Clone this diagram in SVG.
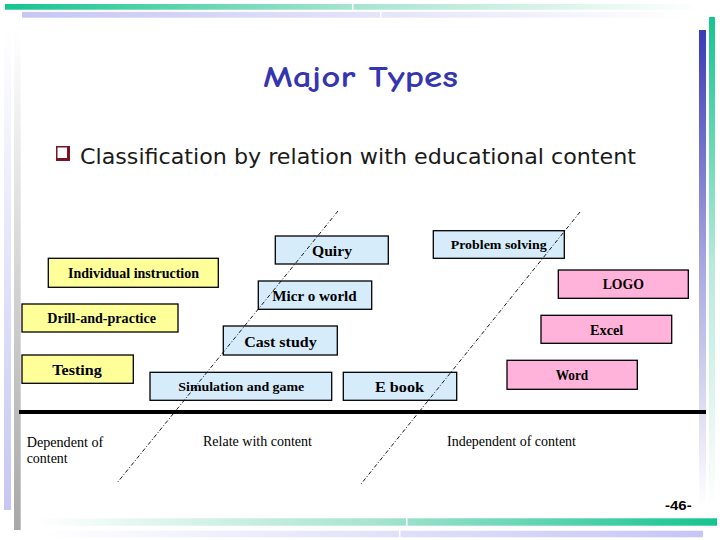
<svg xmlns="http://www.w3.org/2000/svg" width="720" height="540" viewBox="0 0 720 540">
<defs>
<linearGradient id="gH" x1="0" y1="0" x2="1" y2="0"><stop offset="0" stop-color="#14c48f"/><stop offset="0.5" stop-color="#a6e4cf"/><stop offset="1" stop-color="#ffffff"/></linearGradient>
<linearGradient id="lH" x1="0" y1="0" x2="1" y2="0"><stop offset="0" stop-color="#c6c6f6"/><stop offset="0.5" stop-color="#e2e2fa"/><stop offset="1" stop-color="#ffffff"/></linearGradient>
<linearGradient id="gHr" x1="1" y1="0" x2="0" y2="0"><stop offset="0" stop-color="#14c48f"/><stop offset="0.5" stop-color="#a6e4cf"/><stop offset="1" stop-color="#ffffff"/></linearGradient>
<linearGradient id="lHr" x1="1" y1="0" x2="0" y2="0"><stop offset="0" stop-color="#c6c6f6"/><stop offset="0.5" stop-color="#e2e2fa"/><stop offset="1" stop-color="#ffffff"/></linearGradient>
<linearGradient id="bV" x1="0" y1="0" x2="0" y2="1"><stop offset="0" stop-color="#3a3ab6"/><stop offset="0.5" stop-color="#a9a9e0"/><stop offset="1" stop-color="#ffffff"/></linearGradient>
<linearGradient id="gV" x1="0" y1="0" x2="0" y2="1"><stop offset="0" stop-color="#14c48f"/><stop offset="0.5" stop-color="#b6ead8"/><stop offset="1" stop-color="#ffffff"/></linearGradient>
<linearGradient id="lV" x1="0" y1="0" x2="0" y2="1"><stop offset="0" stop-color="#ffffff"/><stop offset="1" stop-color="#c6c6f6"/></linearGradient>
<linearGradient id="grV" x1="0" y1="0" x2="0" y2="1"><stop offset="0" stop-color="#ffffff"/><stop offset="1" stop-color="#a8a8a8"/></linearGradient>
</defs>
<style>
.box{stroke:#000;stroke-width:1.3}
.y{fill:#ffff99}
.b{fill:#d7ecfb}
.p{fill:#ffb3da}
.lbl{font-family:"Liberation Serif","Times New Roman",serif;fill:#000;text-anchor:start;font-weight:bold}
.sep{stroke:#000;stroke-width:0.9;stroke-dasharray:4 2 1 2;fill:none}
.cap{font-family:"Liberation Serif","Times New Roman",serif;font-size:14px;fill:#000}
</style>
<rect width="720" height="540" fill="#ffffff"/>
<g id="decor">
<rect x="5" y="4" width="695" height="5.7" fill="url(#gH)"/>
<rect x="352" y="4" width="1.5" height="5.7" fill="#ffffff"/>
<rect x="22" y="12" width="668" height="5.7" fill="url(#lH)"/>
<rect x="380" y="12" width="1.5" height="5.7" fill="#ffffff"/>
<rect x="699" y="30" width="7" height="475" fill="url(#bV)"/>
<rect x="709" y="17" width="6" height="490" fill="url(#gV)"/>
<rect x="4" y="30" width="7" height="480" fill="url(#lV)"/>
<rect x="14" y="30" width="6.7" height="500" fill="url(#grV)"/>
<rect x="35" y="518.3" width="682" height="7.4" fill="url(#gHr)"/>
<rect x="406" y="518.3" width="1.5" height="7.4" fill="#ffffff"/>
<rect x="40" y="530.7" width="663" height="6.6" fill="url(#lHr)"/>
<rect x="399" y="530.7" width="1.5" height="6.6" fill="#ffffff"/>
</g>
<g id="title">
<text x="263" y="87" font-family="'Comic Neue','DejaVu Sans',sans-serif" font-size="30" font-weight="bold" fill="#3535b0" textLength="195" lengthAdjust="spacingAndGlyphs">Major Types</text>
</g>
<g id="subtitle">
<rect x="56" y="146" width="14" height="15" fill="#7a1422"/>
<rect x="57.5" y="147.5" width="9.5" height="10.5" fill="#ffffff"/>
<text x="80" y="164" font-family="'DejaVu Sans',sans-serif" font-size="22" fill="#1a1a1a" textLength="556" lengthAdjust="spacingAndGlyphs">Classification by relation with educational content</text>
</g>
<g id="axis">
<line x1="19" y1="412" x2="706" y2="412" stroke="#000" stroke-width="4"/>
</g>
<g id="n-individual">
<rect class="box y" x="48.3" y="258.3" width="170" height="29"/>
<text class="lbl" x="68" y="277.7" font-size="14" textLength="131" lengthAdjust="spacingAndGlyphs">Individual instruction</text>
</g>
<g id="n-drill">
<rect class="box y" x="22" y="304" width="156" height="28"/>
<text class="lbl" x="47.3" y="323" font-size="14" textLength="108.7" lengthAdjust="spacingAndGlyphs">Drill-and-practice</text>
</g>
<g id="n-testing">
<rect class="box y" x="22" y="355" width="111.3" height="28.3"/>
<text class="lbl" x="52.3" y="375" font-size="15" textLength="49.4" lengthAdjust="spacingAndGlyphs">Testing</text>
</g>
<g id="n-quiry">
<rect class="box b" x="275.3" y="236" width="113" height="28"/>
<text class="lbl" x="312" y="255.5" font-size="15" textLength="40" lengthAdjust="spacingAndGlyphs">Quiry</text>
</g>
<g id="n-micro">
<rect class="box b" x="258.3" y="281" width="113.4" height="28.3"/>
<text class="lbl" x="272.3" y="300.7" font-size="15" textLength="84.4" lengthAdjust="spacingAndGlyphs">Micr o world</text>
</g>
<g id="n-cast">
<rect class="box b" x="223.3" y="326" width="114" height="29"/>
<text class="lbl" x="244.3" y="347.2" font-size="15" textLength="72.4" lengthAdjust="spacingAndGlyphs">Cast study</text>
</g>
<g id="n-simulation">
<rect class="box b" x="150" y="372.3" width="181.7" height="28"/>
<text class="lbl" x="178.3" y="390.7" font-size="13" textLength="126" lengthAdjust="spacingAndGlyphs">Simulation and game</text>
</g>
<g id="n-ebook">
<rect class="box b" x="343.3" y="372.3" width="113.4" height="28"/>
<text class="lbl" x="375" y="391.7" font-size="15" textLength="49" lengthAdjust="spacingAndGlyphs">E book</text>
</g>
<g id="n-problem">
<rect class="box b" x="433.3" y="230.7" width="131" height="27.6"/>
<text class="lbl" x="450.7" y="249.3" font-size="13" textLength="96" lengthAdjust="spacingAndGlyphs">Problem solving</text>
</g>
<g id="n-logo">
<rect class="box p" x="558.3" y="270" width="130" height="28.3"/>
<text class="lbl" x="602.7" y="289" font-size="14" textLength="41.3" lengthAdjust="spacingAndGlyphs">LOGO</text>
</g>
<g id="n-excel">
<rect class="box p" x="541" y="315.3" width="130.7" height="28"/>
<text class="lbl" x="590" y="335" font-size="14" textLength="33.3" lengthAdjust="spacingAndGlyphs">Excel</text>
</g>
<g id="n-word">
<rect class="box p" x="507" y="360.3" width="130.3" height="29"/>
<text class="lbl" x="555.7" y="380" font-size="14" textLength="32.6" lengthAdjust="spacingAndGlyphs">Word</text>
</g>
<g id="connectors">
<line class="sep" x1="338" y1="211" x2="117" y2="483"/>
<line class="sep" x1="580" y1="212" x2="361" y2="484"/>
</g>
<g id="captions">
<text class="cap" x="26.7" y="446.7" textLength="76.6" lengthAdjust="spacingAndGlyphs">Dependent of</text>
<text class="cap" x="26.7" y="462.7" textLength="41" lengthAdjust="spacingAndGlyphs">content</text>
<text class="cap" x="203" y="446.3" textLength="109" lengthAdjust="spacingAndGlyphs">Relate with content</text>
<text class="cap" x="447" y="446.3" textLength="129" lengthAdjust="spacingAndGlyphs">Independent of content</text>
<text x="665" y="510" font-family="'Liberation Sans',Arial,sans-serif" font-weight="bold" font-size="13" fill="#000" textLength="26.7" lengthAdjust="spacingAndGlyphs">-46-</text>
</g>
</svg>
